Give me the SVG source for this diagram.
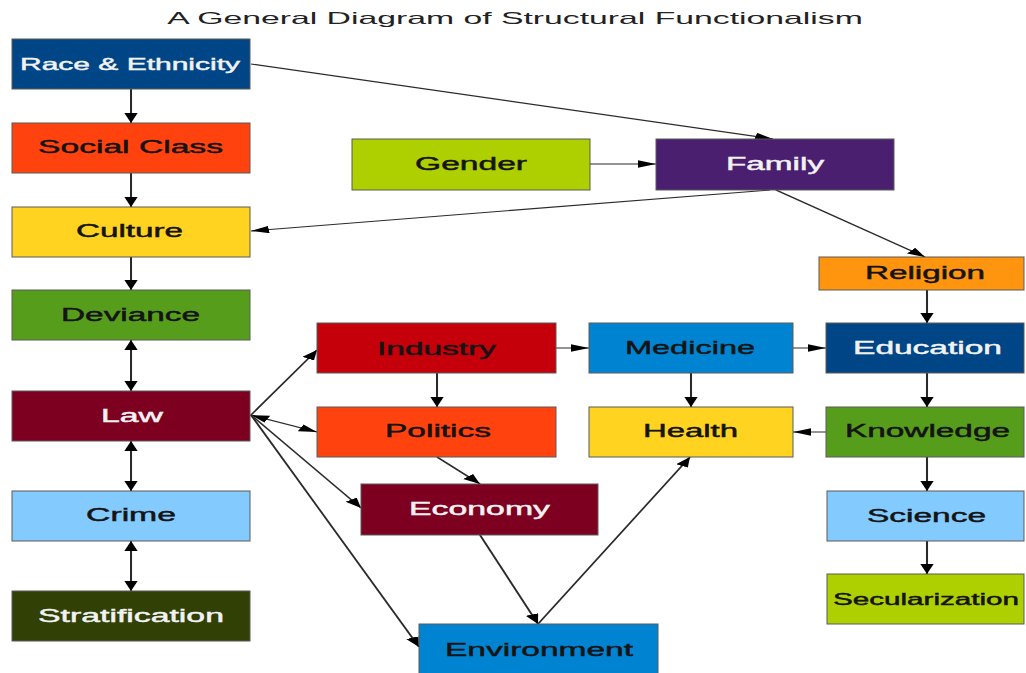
<svg xmlns="http://www.w3.org/2000/svg" width="1026" height="673" viewBox="0 0 1026 673">
<style>
  .box { stroke: #5a5a5a; stroke-width: 1; }
  .t { font-family: "Liberation Sans", Arial, sans-serif; font-size: 18px; text-anchor: middle; stroke-width: 0.45; }
  .dk { fill: #141414; stroke: #141414; }
  .lt { fill: #f2f2f2; stroke: #f2f2f2; }
  .ttl { font-family: "Liberation Sans", Arial, sans-serif; font-size: 16.5px; text-anchor: middle; fill: #222; }
  .c { stroke: #2a2a2a; stroke-width: 1.15; fill: none; marker-end: url(#ah); }
  .b { marker-start: url(#ah); }
</style>
<defs>
  <marker id="ah" markerUnits="userSpaceOnUse" markerWidth="11" markerHeight="8" refX="10" refY="3.7" orient="auto-start-reverse">
    <path d="M0,0 L10,3.7 L0,7.4 z" fill="#000"/>
  </marker>
</defs>
<rect width="1026" height="673" fill="#ffffff"/>
<text class="ttl" transform="translate(515,24) scale(1.85,1)" textLength="376" lengthAdjust="spacingAndGlyphs">A General Diagram of Structural Functionalism</text>

<g id="connectors" transform="scale(1.8,1)">
  <line class="c" x1="72.78" y1="89" x2="72.78" y2="123"/>
  <line class="c" x1="72.78" y1="173" x2="72.78" y2="207"/>
  <line class="c" x1="72.78" y1="257" x2="72.78" y2="290"/>
  <line class="c b" x1="72.78" y1="340" x2="72.78" y2="391"/>
  <line class="c b" x1="72.78" y1="441" x2="72.78" y2="491"/>
  <line class="c b" x1="72.78" y1="541" x2="72.78" y2="591"/>
  <line class="c" x1="139.44" y1="64" x2="429.44" y2="139"/>
  <line class="c" x1="327.78" y1="164" x2="364.44" y2="164"/>
  <line class="c" x1="427.78" y1="190" x2="139.44" y2="231"/>
  <line class="c" x1="431.11" y1="190" x2="513.89" y2="257"/>
  <line class="c" x1="515" y1="290" x2="515" y2="323"/>
  <line class="c" x1="139.44" y1="415" x2="176.11" y2="350"/>
  <line class="c b" x1="139.44" y1="415" x2="176.11" y2="432"/>
  <line class="c" x1="139.44" y1="415" x2="200.56" y2="508"/>
  <line class="c" x1="139.44" y1="415" x2="232.78" y2="647"/>
  <line class="c" x1="308.89" y1="348" x2="327.22" y2="348"/>
  <line class="c" x1="242.78" y1="373" x2="242.78" y2="407"/>
  <line class="c" x1="242.78" y1="457" x2="266.67" y2="484"/>
  <line class="c" x1="266.67" y1="535" x2="298.89" y2="624"/>
  <line class="c" x1="298.89" y1="624" x2="383.33" y2="457"/>
  <line class="c" x1="383.89" y1="373" x2="383.89" y2="407"/>
  <line class="c" x1="440.56" y1="348" x2="458.89" y2="348"/>
  <line class="c" x1="515" y1="373" x2="515" y2="407"/>
  <line class="c" x1="458.89" y1="432" x2="440.56" y2="432"/>
  <line class="c" x1="515" y1="457" x2="515" y2="491"/>
  <line class="c" x1="515" y1="541" x2="515" y2="574"/>
</g>

<g id="race"><rect class="box" x="12" y="39" width="238" height="50" fill="#004586"/><text class="t lt" style="font-size:16.5px" transform="translate(130,70) scale(1.85,1)" textLength="118.9" lengthAdjust="spacingAndGlyphs">Race &amp; Ethnicity</text></g>
<g id="socialclass"><rect class="box" x="12" y="123" width="238" height="50" fill="#ff420e"/><text class="t dk" transform="translate(130.5,153) scale(1.85,1)" textLength="100" lengthAdjust="spacingAndGlyphs">Social Class</text></g>
<g id="culture"><rect class="box" x="12" y="207" width="238" height="50" fill="#ffd320"/><text class="t dk" transform="translate(129.5,237) scale(1.85,1)" textLength="57.8" lengthAdjust="spacingAndGlyphs">Culture</text></g>
<g id="deviance"><rect class="box" x="12" y="290" width="238" height="50" fill="#579d1c"/><text class="t dk" transform="translate(130.5,321) scale(1.85,1)" textLength="75.1" lengthAdjust="spacingAndGlyphs">Deviance</text></g>
<g id="law"><rect class="box" x="12" y="391" width="238" height="50" fill="#7e0021"/><text class="t lt" transform="translate(132,422) scale(1.85,1)" textLength="33.5" lengthAdjust="spacingAndGlyphs">Law</text></g>
<g id="crime"><rect class="box" x="12" y="491" width="238" height="50" fill="#83caff"/><text class="t dk" transform="translate(131,521) scale(1.85,1)" textLength="48.6" lengthAdjust="spacingAndGlyphs">Crime</text></g>
<g id="stratification"><rect class="box" x="12" y="591" width="238" height="50" fill="#314004"/><text class="t lt" transform="translate(131,622) scale(1.85,1)" textLength="100.5" lengthAdjust="spacingAndGlyphs">Stratification</text></g>

<g id="gender"><rect class="box" x="352" y="139" width="238" height="51" fill="#aecf00"/><text class="t dk" transform="translate(471,170) scale(1.85,1)" textLength="60.5" lengthAdjust="spacingAndGlyphs">Gender</text></g>
<g id="family"><rect class="box" x="656" y="139" width="238" height="51" fill="#4b1f6f"/><text class="t lt" transform="translate(775,170) scale(1.85,1)" textLength="53" lengthAdjust="spacingAndGlyphs">Family</text></g>
<g id="religion"><rect class="box" x="819" y="257" width="205" height="33" fill="#ff950e"/><text class="t dk" transform="translate(925,279) scale(1.85,1)" textLength="64.9" lengthAdjust="spacingAndGlyphs">Religion</text></g>

<g id="industry"><rect class="box" x="317" y="323" width="239" height="50" fill="#c5000b"/><text class="t dk" transform="translate(436.5,355) scale(1.85,1)" textLength="64.3" lengthAdjust="spacingAndGlyphs">Industry</text></g>
<g id="politics"><rect class="box" x="317" y="407" width="239" height="50" fill="#ff420e"/><text class="t dk" transform="translate(438,437) scale(1.85,1)" textLength="57.3" lengthAdjust="spacingAndGlyphs">Politics</text></g>
<g id="economy"><rect class="box" x="361" y="484" width="237" height="51" fill="#7e0021"/><text class="t lt" transform="translate(479.5,515) scale(1.85,1)" textLength="76.2" lengthAdjust="spacingAndGlyphs">Economy</text></g>
<g id="environment"><rect class="box" x="419" y="624" width="239" height="50" fill="#0084d1"/><text class="t dk" transform="translate(539,656) scale(1.85,1)" textLength="101.6" lengthAdjust="spacingAndGlyphs">Environment</text></g>

<g id="medicine"><rect class="box" x="589" y="323" width="204" height="50" fill="#0084d1"/><text class="t dk" transform="translate(690,354) scale(1.85,1)" textLength="70.3" lengthAdjust="spacingAndGlyphs">Medicine</text></g>
<g id="health"><rect class="box" x="589" y="407" width="204" height="50" fill="#ffd320"/><text class="t dk" transform="translate(690.5,437) scale(1.85,1)" textLength="51.4" lengthAdjust="spacingAndGlyphs">Health</text></g>

<g id="education"><rect class="box" x="826" y="323" width="198" height="50" fill="#004586"/><text class="t lt" transform="translate(927.5,354) scale(1.85,1)" textLength="80.5" lengthAdjust="spacingAndGlyphs">Education</text></g>
<g id="knowledge"><rect class="box" x="826" y="407" width="198" height="50" fill="#579d1c"/><text class="t dk" transform="translate(927.5,437) scale(1.85,1)" textLength="89.2" lengthAdjust="spacingAndGlyphs">Knowledge</text></g>
<g id="science"><rect class="box" x="827" y="491" width="197" height="50" fill="#83caff"/><text class="t dk" transform="translate(926.5,522) scale(1.85,1)" textLength="64.3" lengthAdjust="spacingAndGlyphs">Science</text></g>
<g id="secularization"><rect class="box" x="827" y="574" width="197" height="50" fill="#aecf00"/><text class="t dk" style="font-size:16px" transform="translate(926,605) scale(1.85,1)" textLength="100.5" lengthAdjust="spacingAndGlyphs">Secularization</text></g>
</svg>
